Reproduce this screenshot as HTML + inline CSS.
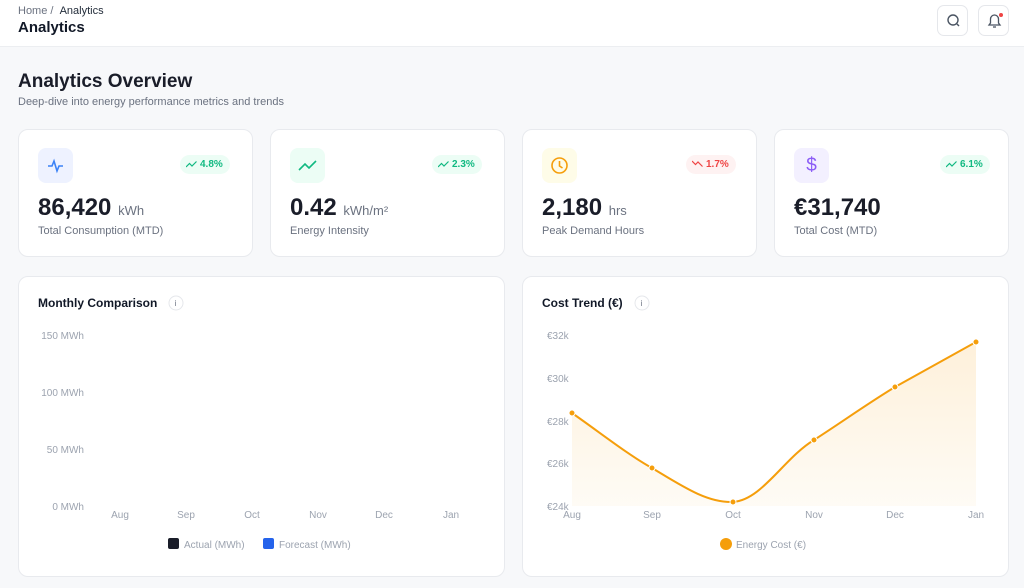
<!DOCTYPE html>
<html><head><meta charset="utf-8"><style>
*{box-sizing:border-box;margin:0;padding:0}
body{width:1024px;height:588px;overflow:hidden;background:#f7f8fa;font-family:"Liberation Sans",sans-serif;color:#111827;position:relative}
.hdr{position:absolute;left:0;top:0;width:1024px;height:47px;background:#fff;border-bottom:1px solid #eceef1}
.abs{position:absolute}
.card{position:absolute;background:#fff;border:1px solid #e8eaee;border-radius:10px}
.ico{position:absolute;left:19px;top:18px;width:35px;height:35px;border-radius:8px}
.badge{position:absolute;top:25px;height:19px;border-radius:10px;font-size:10px;font-weight:bold;line-height:19px;padding:0 7px 0 20px}
.badge svg{position:absolute;left:6px;top:5px}
.big{position:absolute;left:19px;top:64px;font-size:24px;font-weight:bold;color:#1a1d29}
.big span{font-size:13px;font-weight:normal;color:#6b7280}
.lbl{position:absolute;left:19px;top:95px;font-size:11px;color:#6b7280}
.btn{position:absolute;top:5px;width:31px;height:31px;border:1px solid #e5e7eb;border-radius:7px;background:#fff}
.t{font-size:10px;fill:#9ca3af;font-family:"Liberation Sans",sans-serif}
</style></head><body>
<div class="hdr">
<div class="abs" style="left:18px;top:5px;font-size:11px;color:#6b7280">Home / &nbsp;<span style="color:#1f2937">Analytics</span></div>
<div class="abs" style="left:18px;top:19px;font-size:15px;font-weight:bold">Analytics</div>
<div class="btn" style="left:937px"><svg width="31" height="31"><circle cx="15" cy="14" r="5" fill="none" stroke="#4b5563" stroke-width="1.4"/><line x1="19" y1="18" x2="21" y2="20" stroke="#4b5563" stroke-width="1.4"/></svg></div>
<div class="btn" style="left:978px"><svg width="31" height="31"><path d="M10 19h11l-1.5-2v-4a4 4 0 0 0-8 0v4z" fill="none" stroke="#4b5563" stroke-width="1.3"/><path d="M14 21h3" stroke="#4b5563" stroke-width="1.3"/><circle cx="22" cy="9" r="2" fill="#ef4444"/></svg></div>
</div>
<div class="abs" style="left:18px;top:71px;font-size:19px;font-weight:bold;color:#1a1d29">Analytics Overview</div>
<div class="abs" style="left:18px;top:96px;font-size:11px;color:#6b7280">Deep-dive into energy performance metrics and trends</div>

<div class="card" style="left:18px;top:129px;width:235px;height:128px">
<div class="ico" style="background:#eef2ff"><svg width="35" height="35"><path d="M10 18h4l2-5 3 10 2-5h4" fill="none" stroke="#3b82f6" stroke-width="1.6"/></svg></div>
<div class="badge" style="left:161px;background:#ecfdf5;color:#10b981"><svg width="11" height="9"><path d="M0 7l3.5-3.5 2.5 2.5 4.5-4.5" fill="none" stroke="#10b981" stroke-width="1.2"/></svg>4.8%</div>
<div class="big">86,420 <span>kWh</span></div><div class="lbl">Total Consumption (MTD)</div></div>
<div class="card" style="left:270px;top:129px;width:235px;height:128px">
<div class="ico" style="background:#ecfdf5"><svg width="35" height="35"><path d="M9 22l6-6 4 4 7-7" fill="none" stroke="#10b981" stroke-width="1.6"/></svg></div>
<div class="badge" style="left:161px;background:#ecfdf5;color:#10b981"><svg width="11" height="9"><path d="M0 7l3.5-3.5 2.5 2.5 4.5-4.5" fill="none" stroke="#10b981" stroke-width="1.2"/></svg>2.3%</div>
<div class="big">0.42 <span>kWh/m²</span></div><div class="lbl">Energy Intensity</div></div>
<div class="card" style="left:522px;top:129px;width:235px;height:128px">
<div class="ico" style="background:#fefce8"><svg width="35" height="35"><circle cx="17.5" cy="17.5" r="7.5" fill="none" stroke="#f59e0b" stroke-width="1.6"/><path d="M17.5 13v5l3 2" fill="none" stroke="#f59e0b" stroke-width="1.6"/></svg></div>
<div class="badge" style="left:163px;background:#fef2f2;color:#ef4444"><svg width="11" height="9"><path d="M0 1l3.5 3.5 2.5-2.5 4.5 4.5" fill="none" stroke="#ef4444" stroke-width="1.2"/></svg>1.7%</div>
<div class="big">2,180 <span>hrs</span></div><div class="lbl">Peak Demand Hours</div></div>
<div class="card" style="left:774px;top:129px;width:235px;height:128px">
<div class="ico" style="background:#f3f0ff;color:#8b5cf6;font-size:19px;text-align:center;line-height:35px">$</div>
<div class="badge" style="left:165px;background:#ecfdf5;color:#10b981"><svg width="11" height="9"><path d="M0 7l3.5-3.5 2.5 2.5 4.5-4.5" fill="none" stroke="#10b981" stroke-width="1.2"/></svg>6.1%</div>
<div class="big">€31,740</div><div class="lbl">Total Cost (MTD)</div></div>

<div class="card" style="left:18px;top:276px;width:487px;height:301px">
<svg width="487" height="301" style="position:absolute;left:-1px;top:-1px">
<text x="20" y="31" style="font-size:12px;font-weight:bold;fill:#111827;font-family:'Liberation Sans',sans-serif">Monthly Comparison</text>
<circle cx="158" cy="27" r="7" fill="#fff" stroke="#e5e7eb"/><text x="156.5" y="30" style="font-size:8px;fill:#6b7280">i</text>
<g class="t" text-anchor="end"><text x="66" y="63">150 MWh</text><text x="66" y="120">100 MWh</text><text x="66" y="177">50 MWh</text><text x="66" y="234">0 MWh</text></g>
<g class="t" text-anchor="middle"><text x="102" y="242">Aug</text><text x="168" y="242">Sep</text><text x="234" y="242">Oct</text><text x="300" y="242">Nov</text><text x="366" y="242">Dec</text><text x="433" y="242">Jan</text></g>
<rect x="150" y="262" width="11" height="11" rx="2" fill="#1a1d29"/><text class="t" x="166" y="272">Actual (MWh)</text>
<rect x="245" y="262" width="11" height="11" rx="2" fill="#2563eb"/><text class="t" x="261" y="272">Forecast (MWh)</text>
</svg></div>

<div class="card" style="left:522px;top:276px;width:487px;height:301px">
<svg width="487" height="301" style="position:absolute;left:-1px;top:-1px">
<defs><linearGradient id="g" x1="0" y1="0" x2="0" y2="1"><stop offset="0" stop-color="#f59e0b" stop-opacity="0.15"/><stop offset="1" stop-color="#f59e0b" stop-opacity="0.04"/></linearGradient></defs>
<text x="20" y="31" style="font-size:12px;font-weight:bold;fill:#111827;font-family:'Liberation Sans',sans-serif">Cost Trend (€)</text>
<circle cx="120" cy="27" r="7" fill="#fff" stroke="#e5e7eb"/><text x="118.5" y="30" style="font-size:8px;fill:#6b7280">i</text>
<g class="t"><text x="25" y="63">€32k</text><text x="25" y="106">€30k</text><text x="25" y="149">€28k</text><text x="25" y="191">€26k</text><text x="25" y="234">€24k</text></g>
<g class="t" text-anchor="middle"><text x="50" y="242">Aug</text><text x="130" y="242">Sep</text><text x="211" y="242">Oct</text><text x="292" y="242">Nov</text><text x="373" y="242">Dec</text><text x="454" y="242">Jan</text></g>
<path d="M50 137 C80 158,105 178,130 192 C160 210,185 227,211 226 C240 224,262 182,292 164 C320 146,345 128,373 111 C400 96,427 81,454 66 L454 230 L50 230Z" fill="url(#g)"/>
<path d="M50 137 C80 158,105 178,130 192 C160 210,185 227,211 226 C240 224,262 182,292 164 C320 146,345 128,373 111 C400 96,427 81,454 66" fill="none" stroke="#f59e0b" stroke-width="2"/>
<g fill="#f59e0b" stroke="#fff" stroke-width="1"><circle cx="50" cy="137" r="3"/><circle cx="130" cy="192" r="3"/><circle cx="211" cy="226" r="3"/><circle cx="292" cy="164" r="3"/><circle cx="373" cy="111" r="3"/><circle cx="454" cy="66" r="3"/></g>
<circle cx="204" cy="268" r="6" fill="#f59e0b"/><text class="t" x="214" y="272">Energy Cost (€)</text>
</svg></div>
</body></html>
